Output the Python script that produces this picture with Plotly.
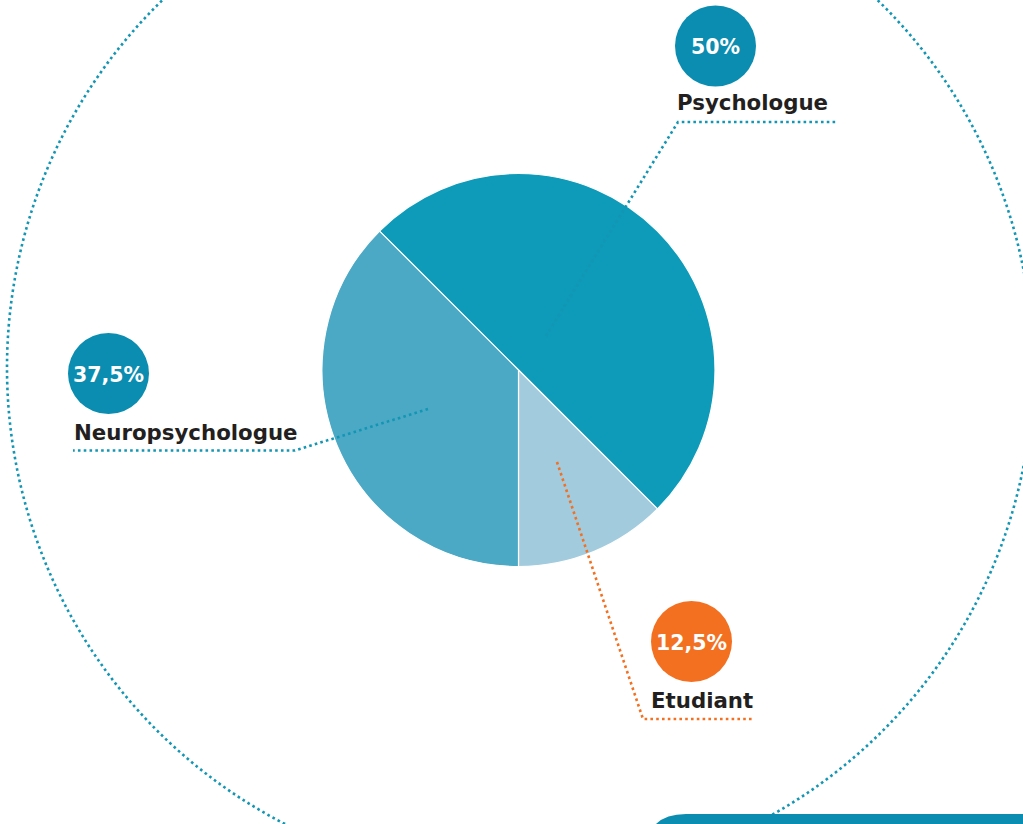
import plotly.graph_objects as go

# ---- data ----
labels = ["Psychologue", "Etudiant", "Neuropsychologue"]
values = [50, 12.5, 37.5]
pct_text = ["50%", "12,5%", "37,5%"]
slice_colors = ["#0e9ab9", "#a3cbde", "#4ba9c5"]
badge_colors = ["#0a8db0", "#f37021", "#0a8db0"]
line_colors = ["#1396b4", "#f37021", "#1396b4"]

W, H = 1023, 824

# pie geometry (screen pixels)
pcx, pcy, pr = 518.5, 370, 196.5

# label layout (screen pixels): badge centre, label text anchor, leader path
badge_xy = [(715.5, 46), (691.5, 641.5), (108.5, 373.5)]
label_xy = [(752.5, 102, "center"), (701.5, 700, "center"), (72, 432, "left")]
leaders = [
    [(546, 336), (678, 122), (838, 122)],
    [(557, 462), (643, 719), (752, 719)],
    [(428, 409), (295, 450.5), (73, 450.5)],
]
badge_r = 40.5

fig = go.Figure()

fig.add_trace(go.Pie(
    labels=labels, values=values, sort=False, direction="clockwise",
    rotation=-45, textinfo="none", hoverinfo="label+percent",
    marker=dict(colors=slice_colors, line=dict(color="white", width=1.2)),
    showlegend=False,
    domain=dict(x=[(pcx - pr) / W, (pcx + pr) / W],
                y=[1 - (pcy + pr) / H, 1 - (pcy - pr) / H]),
))

shapes = []
# outer dotted circle
ocx, ocy, orr = 520, 368, 513
shapes.append(dict(type="circle", xref="x", yref="y",
                   x0=ocx - orr, x1=ocx + orr, y0=ocy - orr, y1=ocy + orr,
                   line=dict(color="#1396b4", width=2.6, dash="2.6px,3.2px"),
                   layer="below"))
# bottom rounded box
shapes.append(dict(type="path", xref="x", yref="y",
                   path="M 646,880 L 646,854 Q 646,814 686,814 L 1060,814 L 1060,880 Z",
                   fillcolor="#0a8db0", line=dict(width=0)))

for i in range(3):
    pts = leaders[i]
    path = "M " + " L ".join(f"{x},{y}" for x, y in pts)
    shapes.append(dict(type="path", xref="x", yref="y", path=path,
                       line=dict(color=line_colors[i], width=2.6, dash="2.6px,3.2px")))
    bx, by = badge_xy[i]
    shapes.append(dict(type="circle", xref="x", yref="y",
                       x0=bx - badge_r, x1=bx + badge_r, y0=by - badge_r, y1=by + badge_r,
                       fillcolor=badge_colors[i], line=dict(width=0)))

annotations = []
FONT = "DejaVu Sans"
for i in range(3):
    bx, by = badge_xy[i]
    annotations.append(dict(x=bx, y=by + 1, xref="x", yref="y", text=f"<b>{pct_text[i]}</b>",
                            showarrow=False, font=dict(family=FONT, size=20.5, color="white"),
                            xanchor="center", yanchor="middle"))
    lx, ly, anc = label_xy[i]
    annotations.append(dict(x=lx, y=ly, xref="x", yref="y", text=f"<b>{labels[i]}</b>",
                            showarrow=False, font=dict(family=FONT, size=21.3, color="#231f20"),
                            xanchor=anc, yanchor="middle"))

fig.update_layout(
    width=W, height=H, margin=dict(l=0, r=0, t=0, b=0),
    paper_bgcolor="white", plot_bgcolor="rgba(0,0,0,0)",
    xaxis=dict(range=[0, W], visible=False, fixedrange=True),
    yaxis=dict(range=[H, 0], visible=False, fixedrange=True),
    shapes=shapes, annotations=annotations,
)

fig.write_html("out.html",
               config={"displayModeBar": False},
               post_script="document.body.style.margin='0';document.body.style.overflow='hidden';")
